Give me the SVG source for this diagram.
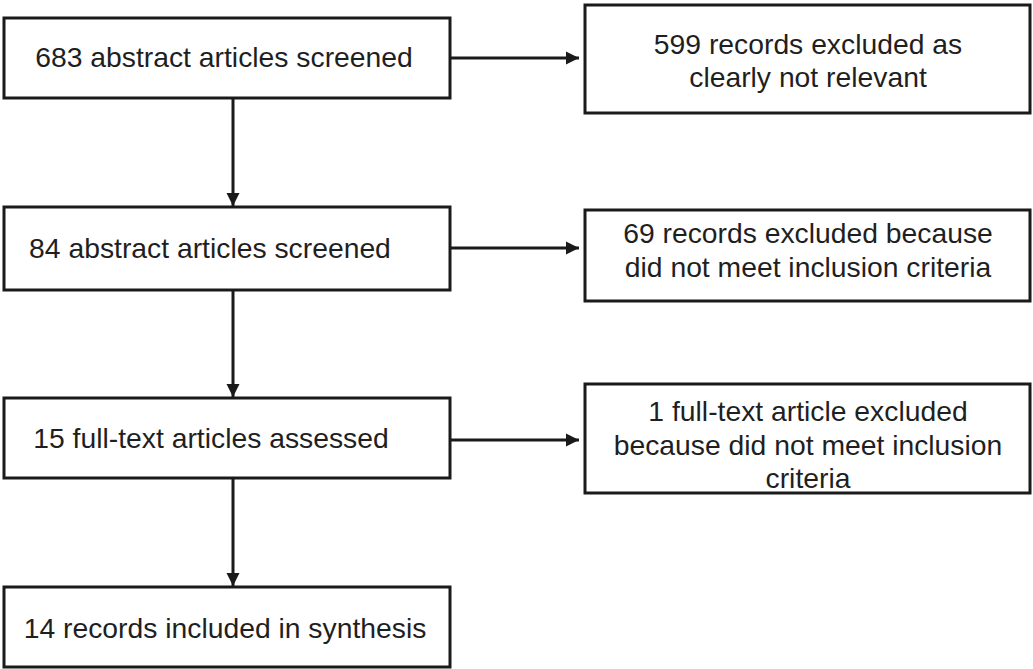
<svg xmlns="http://www.w3.org/2000/svg" width="1033" height="669" viewBox="0 0 1033 669">
<style>
.box{fill:#fff;stroke:#1a1a1a;stroke-width:3}
.t{font-family:"Liberation Sans",Arial,sans-serif;font-size:28.3px;fill:#1f1f1f;text-anchor:middle}
.c{stroke:#1a1a1a;stroke-width:3;fill:none;marker-end:url(#ah)}
</style>
<defs>
<marker id="ah" viewBox="0 0 10 10" refX="10" refY="5" markerWidth="4.5" markerHeight="4.5" markerUnits="strokeWidth" orient="auto">
<path d="M0,0 L10,5 L0,10 z" fill="#1a1a1a"/>
</marker>
</defs>
<rect width="1033" height="669" fill="#fff"/>
<g id="connectors">
<line class="c" x1="450" y1="58" x2="579" y2="58"/>
<line class="c" x1="233" y1="98" x2="233" y2="206"/>
<line class="c" x1="450" y1="248" x2="579" y2="248"/>
<line class="c" x1="233" y1="290" x2="233" y2="397"/>
<line class="c" x1="450" y1="440" x2="579" y2="440"/>
<line class="c" x1="233" y1="478" x2="233" y2="586"/>
</g>
<g id="n1"><rect class="box" x="4" y="18" width="446" height="80"/><text class="t" x="224" y="67">683 abstract articles screened</text></g>
<g id="n2"><rect class="box" x="585" y="5" width="445" height="108"/><text class="t" x="808" y="54">599 records excluded as</text><text class="t" x="808" y="87">clearly not relevant</text></g>
<g id="n3"><rect class="box" x="4" y="207" width="446" height="83"/><text class="t" x="210" y="258">84 abstract articles screened</text></g>
<g id="n4"><rect class="box" x="585" y="210" width="445" height="91"/><text class="t" x="808" y="243">69 records excluded because</text><text class="t" x="808" y="277">did not meet inclusion criteria</text></g>
<g id="n5"><rect class="box" x="4" y="398" width="446" height="80"/><text class="t" x="211" y="448">15 full-text articles assessed</text></g>
<g id="n6"><rect class="box" x="585" y="384" width="445" height="109"/><text class="t" x="808" y="421">1 full-text article excluded</text><text class="t" x="808" y="455">because did not meet inclusion</text><text class="t" x="808" y="488">criteria</text></g>
<g id="n7"><rect class="box" x="4" y="587" width="446" height="80"/><text class="t" x="225" y="638">14 records included in synthesis</text></g>
</svg>
